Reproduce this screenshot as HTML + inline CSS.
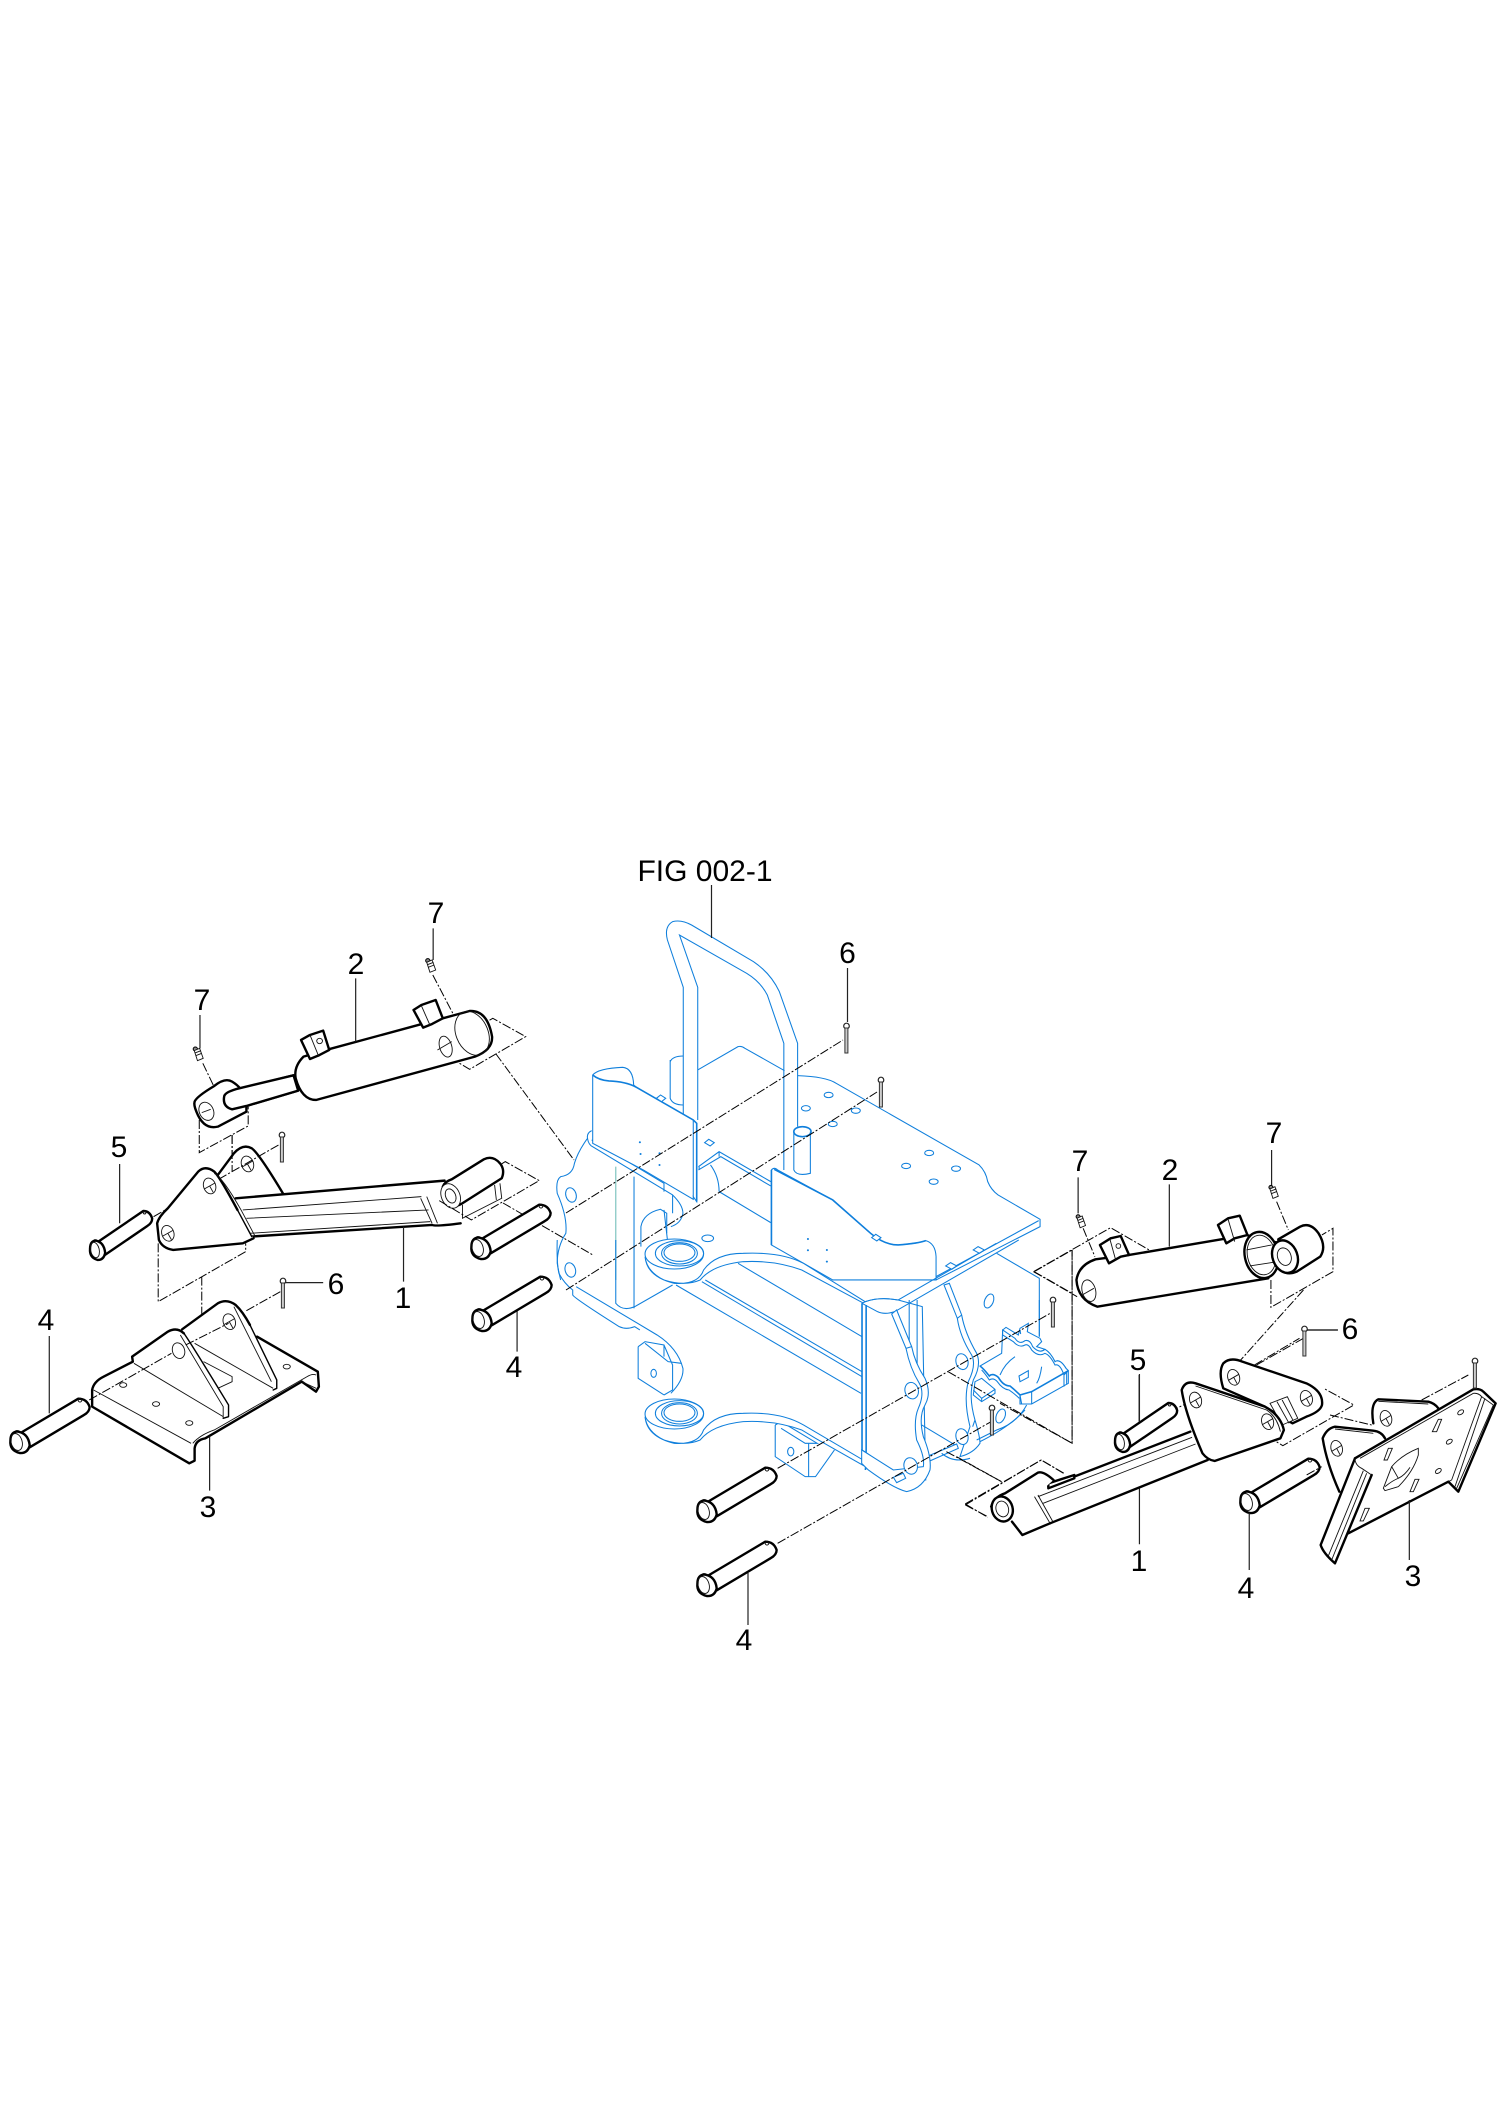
<!DOCTYPE html>
<html><head><meta charset="utf-8"><title>FIG 002-1</title>
<style>
html,body{margin:0;padding:0;background:#fff}
svg{display:block}
svg *{vector-effect:non-scaling-stroke}
.k{fill:#fff;stroke:#000;stroke-width:2.4;stroke-linejoin:round;stroke-linecap:round}
.n{fill:none;stroke:#000;stroke-width:2.4;stroke-linejoin:round;stroke-linecap:round}
.m{fill:none;stroke:#000;stroke-width:1.4;stroke-linejoin:round;stroke-linecap:round}
.w{fill:#fff;stroke:none}
.t{fill:none;stroke:#111;stroke-width:.9}
.f{fill:#fff;stroke:#111;stroke-width:.9}
.d{fill:none;stroke:#000;stroke-width:1;stroke-dasharray:9 2 2 2}
.l{fill:none;stroke:#222;stroke-width:1.2}
.b{fill:none;stroke:#0f7fdc;stroke-width:1.05}
.bw{fill:#fff;stroke:#0f7fdc;stroke-width:1.05}
.bt{fill:none;stroke:#0f7fdc;stroke-width:1.6}
.g{fill:none;stroke:#7fc4c0;stroke-width:1.2}
text{font-family:"Liberation Sans",sans-serif;font-size:30px;fill:#000;text-anchor:middle}
</style></head>
<body>
<svg width="1500" height="2121" viewBox="0 0 1500 2121" xmlns="http://www.w3.org/2000/svg">
<defs>
<g id="pin"><path class="k" d="M12 -30L175 -130Q200 -130 208 -105Q208 -90 190 -80L34 16Z"/><path class="k" d="M-5 -32Q30 -28 34 10Q28 35 5 33Q-25 25 -22 -5Q-22 -30 0 -32Z"/><ellipse class="t" cx="-4" cy="0" rx="16" ry="26" transform="rotate(-15 -4 0)"/><circle class="t" cx="180" cy="-125" r="5"/></g>
<g id="cot"><circle cx="0" cy="2" r="2.8" fill="#fff" stroke="#222" stroke-width="1.2"/><rect x="-1.6" y="4" width="3" height="25" fill="#ccc" stroke="#333" stroke-width="1"/></g>
<g id="fit"><circle cx="0" cy="0" r="6" fill="#888" stroke="#000" stroke-width="1"/><path class="f" d="M-3 5L12 -2L22 28L6 35Z"/><path class="t" d="M-1 12L16 5M1 20L18 13"/></g>
<g id="hole"><ellipse class="f" rx="17" ry="24" transform="rotate(-15)"/><path class="t" d="M-15 9L15 -9M0 0L10 19"/></g>
</defs>

<!-- BLUE FRAME upper (Z3) -->
<g transform="translate(540 880) scale(.3444 .3333)">
<path class="b" d="M458 570L575 500Q585 497 595 505L710 572"/>
<path class="b" d="M748 587Q830 590 860 610L1275 855Q1295 875 1300 905Q1310 930 1330 945L1452 1018L1452 1040L1150 1200"/>
<path class="b" d="M1448 1022L1150 1190"/>
<path class="b" d="M378 540L378 655Q385 675 416 675M378 545Q385 528 416 528"/>
<path class="b" d="M416 720L416 322L370 180Q360 140 385 125Q410 118 440 135L620 245Q670 280 695 335L748 490L748 740"/>
<path class="b" d="M458 720L458 322L405 165L600 280Q640 305 660 345L708 490L708 870"/>
<ellipse class="bt" cx="762" cy="755" rx="25" ry="15"/>
<path class="b" d="M737 755L737 870Q745 890 785 880L785 755"/>
<ellipse class="b" cx="838" cy="645" rx="13" ry="8"/><ellipse class="b" cx="772" cy="685" rx="13" ry="8"/><ellipse class="b" cx="917" cy="692" rx="13" ry="8"/><ellipse class="b" cx="850" cy="732" rx="13" ry="8"/><ellipse class="b" cx="1130" cy="819" rx="13" ry="8"/><ellipse class="b" cx="1063" cy="858" rx="13" ry="8"/><ellipse class="b" cx="1208" cy="866" rx="13" ry="8"/><ellipse class="b" cx="1143" cy="905" rx="13" ry="8"/>
<path class="b" d="M460 860L520 815L670 905M460 870L525 830L670 918M495 855Q520 890 520 935M520 815L520 830"/>
<path class="b" d="M462 870L462 860M520 935L670 1028"/>
<path class="b" d="M150 752Q135 760 138 775Q140 790 148 797L385 945Q415 975 415 1000Q410 1030 380 1040"/>
<path class="b" d="M150 780L360 910L360 935M138 775Q110 815 100 850Q95 885 60 890Q45 900 50 940Q80 1010 75 1060Q50 1100 50 1150Q55 1180 60 1200"/>
<path class="g" d="M220 860L220 1200"/><path class="b" d="M273 890L273 1200M385 945L385 1000M360 990L370 1080"/>
<path class="b" d="M293 1100L293 1040Q300 1000 350 988L368 1000L368 1060"/>
<path class="bw" d="M153 585Q170 565 240 562Q270 565 272 615L280 622L445 720L455 730L455 965L445 950L445 958L300 870L153 790Z"/>
<path class="bt" d="M153 585Q170 600 200 603Q250 605 280 622L445 720L455 730L455 965"/>
<path class="b" d="M445 720L445 950"/>
<path class="bw" d="M672 870Q680 860 690 870L850 960L960 1060Q1000 1095 1040 1095Q1100 1090 1120 1082Q1148 1090 1150 1130L1150 1200L850 1200L672 1095Z"/>
<path class="bt" d="M672 870L672 1095M680 868L850 960L960 1060Q1000 1095 1040 1095Q1100 1090 1120 1082"/>
<path class="bw" d="M338 655L350 645L365 655L353 665Z"/><path class="bw" d="M478 788L490 778L506 788L494 798Z"/><path class="bw" d="M963 1073L975 1063L990 1073L978 1083Z"/><path class="bw" d="M1178 1158L1192 1148L1210 1158L1196 1168Z"/><path class="bw" d="M1258 1110L1272 1100L1290 1110L1276 1120Z"/>
<g fill="#0f7fdc"><circle cx="290" cy="787" r="3"/><circle cx="292" cy="822" r="3"/><circle cx="347" cy="820" r="3"/><circle cx="347" cy="855" r="3"/><circle cx="778" cy="1077" r="3"/><circle cx="778" cy="1111" r="3"/><circle cx="833" cy="1110" r="3"/><circle cx="833" cy="1145" r="3"/></g>
<ellipse class="bw" cx="90" cy="945" rx="15" ry="22" transform="rotate(-15 90 945)"/><ellipse class="bw" cx="88" cy="1170" rx="15" ry="22" transform="rotate(-15 88 1170)"/>
<ellipse class="b" cx="487" cy="1075" rx="17" ry="10"/>
</g>
<!-- BLUE FRAME lower (Z4) -->
<g transform="translate(540 1240) scale(.3444 .3333)">
<path class="b" d="M50 0Q48 70 55 100Q70 130 95 150L95 165Q100 175 230 260Q250 270 275 260L290 270"/>
<path class="b" d="M105 140L340 285Q400 325 415 385Q418 420 380 460"/>
<path class="b" d="M220 0L220 190Q240 215 275 200L385 135"/><path class="b" d="M273 0L273 205"/>
<path class="b" d="M395 135L932 460M470 125L935 410M480 120L935 395M575 70L935 290"/>
<path class="bw" d="M305 50Q310 110 390 130Q460 135 475 90Q510 40 590 40Q700 35 765 70L975 205L975 215L940 190L760 90Q680 60 590 65Q500 75 465 120Q420 140 360 120Q310 95 305 50Z"/>
<ellipse class="bw" cx="390" cy="42" rx="85" ry="45"/><ellipse class="b" cx="405" cy="40" rx="70" ry="38"/><ellipse class="b" cx="405" cy="40" rx="52" ry="32"/><ellipse class="b" cx="405" cy="38" rx="45" ry="26"/>
<path class="b" d="M285 320L285 415L360 465M285 320L305 305L360 315L385 375L385 450L360 465M305 310L372 365L410 370M360 315L360 350"/>
<ellipse class="b" cx="330" cy="400" rx="8" ry="12"/>
<path class="b" d="M683 555L683 650L770 710L800 710L855 630M683 555L700 545L805 610L770 610L700 565M780 610L780 710"/>
<ellipse class="b" cx="728" cy="635" rx="9" ry="13"/>
<path class="bw" d="M305 530Q310 590 390 610Q460 615 475 570Q510 520 590 520Q700 515 765 555L1045 725L1030 730L800 595L760 570Q680 540 590 545Q500 555 465 600Q420 620 360 600Q310 575 305 530Z"/>
<ellipse class="bw" cx="390" cy="522" rx="85" ry="45"/><ellipse class="b" cx="405" cy="520" rx="70" ry="38"/><ellipse class="b" cx="405" cy="520" rx="52" ry="32"/><ellipse class="b" cx="405" cy="518" rx="45" ry="26"/>
<path class="bw" d="M935 190L935 630L950 640L1060 720L1120 720L1110 200L1040 180Q985 170 945 185Z"/>
<path class="bt" d="M935 190L935 630M947 195L947 630L945 690"/><path class="b" d="M1095 180L1095 400M1072 180L1072 320"/>
<path class="b" d="M945 185Q985 170 1040 180L1325 10M935 190L980 215Q1000 225 1030 215L1390 0"/>
</g>

<!-- BLUE right side detail (zoom 860,1240) -->
<g transform="translate(860 1240) scale(.3333 .3333)">
<path class="b" d="M410 40L538 115L538 290"/>
<path class="b" d="M185 555L285 615M200 650L290 612L295 625L205 665M245 640Q280 670 330 655M360 605Q450 560 495 510"/>
<path class="bw" d="M252 135L268 130L305 225Q315 280 350 340Q365 375 340 420Q325 470 345 540Q360 590 360 610Q340 640 300 650L330 560Q310 480 325 425Q350 375 335 345Q300 290 292 235Z"/>
<path class="b" d="M292 235L305 225M338 560L345 540"/>
<ellipse class="bw" cx="306" cy="365" rx="18" ry="24" transform="rotate(-15 306 365)"/><ellipse class="bw" cx="306" cy="590" rx="18" ry="24" transform="rotate(-15 306 590)"/>
<ellipse class="bw" cx="387" cy="183" rx="13" ry="22" transform="rotate(22 387 183)"/><ellipse class="bw" cx="422" cy="528" rx="13" ry="22" transform="rotate(22 422 528)"/>
<path class="bw" d="M95 222L110 210L155 320Q165 370 195 415Q215 460 195 495Q175 530 190 590Q215 650 210 690Q190 745 140 755Q100 745 25 690L5 670L5 630L100 690L190 680Q195 650 170 600Q160 540 175 505Q195 460 178 430Q150 385 138 325Z"/>
<path class="b" d="M138 325L155 320"/>
<ellipse class="bw" cx="155" cy="452" rx="20" ry="25" transform="rotate(-15 155 452)"/><ellipse class="bw" cx="152" cy="678" rx="20" ry="25" transform="rotate(-15 152 678)"/>
<path class="bw" d="M100 712L130 700L137 715L110 728Z"/>
</g>

<!-- TRACK (zoom 940,1300) -->
<g transform="translate(940 1300) scale(.3333 .3333)">
<path class="b" d="M298 0L298 110"/>
<path class="bw" d="M105 245L125 235L165 268L165 280L125 305L100 285Z"/><path class="b" d="M100 270L125 295L165 268M125 295L125 305"/>
<path class="b" d="M260 315Q230 370 170 390L110 420"/>
<path class="bw" d="M188 90L198 82L235 105L240 85L265 70L262 95L300 115L305 125L290 140L315 148Q332 158 345 185Q360 175 378 205L385 212L385 250L275 312L240 312L240 285Q225 270 210 258Q190 258 175 232Q158 218 148 228Q130 205 120 198L185 160Z"/>
<path class="bw" d="M188 90L225 115Q238 135 255 122Q270 118 278 140Q298 162 315 148Q332 158 345 185Q360 175 378 205L385 212L372 225Q360 190 345 195Q330 165 315 160Q295 172 275 150Q265 130 255 135Q238 145 220 125L188 105Z"/>
<path class="bt" d="M120 198Q130 205 148 228Q158 218 175 232Q190 258 210 258Q225 270 240 285L275 275L385 212"/>
<path class="b" d="M125 210Q135 220 148 240Q160 232 172 245Q188 268 207 270Q222 280 238 295M240 285L245 312M275 275L275 312M180 225Q195 190 225 170M305 200Q300 235 290 250M372 225L372 260M380 215L380 252"/>
<path class="bw" d="M237 228L265 212L265 232L240 245Z"/><path class="b" d="M240 90L242 102"/>
</g>

<!-- DASH-DOT lines -->
<g class="d">
<path d="M496 1054L574 1160"/><path d="M503 1203L593 1255"/>
<path d="M566 1213L843 1040"/>
<path d="M566 1290L877 1092"/>
<g transform="translate(540 1240) scale(.3444 .3333)">
<path d="M690 685L1490 215M690 910L1310 545M1185 395L1545 610L1545 30M1180 635L1340 725M1235 795L1455 660L1520 700M1235 795L1300 830M1435 95L1545 30M1435 95L1545 160"/>
</g>
</g>

<!-- LEFT CYLINDER (Z1) -->
<g transform="translate(0 840) scale(.3571 .3333)">
<path class="d" d="M1225 630L1380 535L1472 590L1315 688Z"/>
<path class="d" d="M558 840L558 938L695 858L695 800M650 885L650 995M568 670L597 735M1212 405L1268 520"/>
<path class="k" d="M670 748L822 706L835 752L690 798Z"/>
<path class="k" d="M545 785Q550 770 600 738Q630 712 650 725Q665 735 672 745L690 798L690 815L610 860Q570 870 550 815Q542 795 545 785Z"/>
<path class="k" d="M690 798L650 808Q622 800 628 768Q632 755 670 745L822 706L835 752Z"/>
<ellipse class="t" cx="578" cy="814" rx="20" ry="28" transform="rotate(-20 578 814)"/><path class="t" d="M565 818L590 808"/>
<path class="k" d="M850 650Q822 680 828 715Q845 780 885 780L1330 650Q1380 630 1378 590Q1365 510 1315 513L1240 535L920 628Z"/>
<ellipse class="t" cx="1322" cy="580" rx="45" ry="68" transform="rotate(-20 1322 580)"/>
<ellipse class="t" cx="1248" cy="620" rx="17" ry="32" transform="rotate(-15 1248 620)"/><path class="t" d="M1225 630L1265 605"/>
<path class="k" d="M843 600L868 585L905 572L922 630L895 645L868 657Z"/><path class="t" d="M868 585L893 650"/><circle class="t" cx="895" cy="603" r="8"/>
<path class="k" d="M1158 510L1180 495L1220 480L1240 535L1210 552L1185 563Z"/><path class="t" d="M1180 497L1205 558"/>
<use href="#fit" transform="translate(547 627)"/>
<use href="#fit" transform="translate(1198 362)"/>
<!-- left arm -->
<path class="w" d="M610 1005L655 940Q680 910 705 925Q725 940 795 1065L610 1080Z"/>
<path class="n" d="M610 1005L655 940Q680 910 705 925Q725 940 795 1065"/>
<use href="#hole" transform="translate(693 972)"/>
<path class="d" d="M430 1130L780 915M650 885L650 995"/>
<path class="w" d="M660 1075L1245 1022L1300 1145L1210 1155L700 1190Z"/>
<path class="n" d="M660 1075L1245 1022M700 1190L1210 1155Q1220 1160 1290 1150"/>
<path class="t" d="M680 1110L1180 1070M690 1135L1200 1110M700 1180L1205 1145M1178 1075L1210 1150M1195 1070L1225 1150"/>
<path class="t" d="M1295 1095L1295 1135L1405 1075L1400 1030M1385 1035L1390 1080"/>
<path class="k" d="M1240 1040Q1245 1025 1265 1018L1355 958Q1380 945 1400 970Q1415 990 1405 1015L1295 1090Q1270 1105 1255 1095Z"/>
<ellipse class="f" cx="1262" cy="1068" rx="26" ry="38" transform="rotate(-20 1262 1068)"/><ellipse class="t" cx="1262" cy="1068" rx="14" ry="22" transform="rotate(-20 1262 1068)"/>
<path class="d" d="M1230 1082L1320 1140L1510 1022L1415 965L1400 975"/>
<path class="w" d="M445 1200L440 1150Q445 1130 470 1105L555 995Q575 975 600 995Q615 1010 665 1110L710 1195L680 1210L485 1230Q455 1225 445 1200Z"/>
<path class="n" d="M445 1200L440 1150Q445 1130 470 1105L555 995Q575 975 600 995Q615 1010 665 1110M710 1195L680 1210L485 1230Q455 1225 445 1200"/>
<path class="m" d="M665 1110L705 1190"/>
<path class="t" d="M600 1000Q625 1015 675 1110L715 1190"/>
<use href="#hole" transform="translate(587 1038)"/>
<use href="#hole" transform="translate(470 1180)"/>
<path class="l" d="M560 525L560 625M1213 265L1213 360M996 415L996 605M335 972L335 1150M1130 1160L1130 1325"/>
</g>

<!-- LEFT BASE PLATE (Z2) -->
<g transform="translate(0 1240) scale(.3571 .3333)">
<path class="d" d="M443 10L443 185L688 35L688 10M565 110L565 290M690 212L785 155"/>
<path class="w" d="M720 290L890 395L893 440L885 455L845 425L575 595Q548 600 545 625L545 662L530 670L258 500L258 450Q262 425 290 410L372 365Z"/>
<path class="n" d="M720 290L890 395L893 440L885 455L845 425M845 425L575 595Q548 600 545 625L545 662L530 670L258 500L258 450Q262 425 290 410L372 365"/>
<path class="t" d="M262 450L535 610M540 610Q560 585 600 570L860 410Q875 400 885 405M845 425L885 445"/>
<path class="w" d="M510 268L610 190Q635 175 660 195Q680 215 775 420L775 445L765 450L530 320Z"/>
<path class="n" d="M510 268L610 190Q635 175 660 195Q680 215 700 255"/>
<path class="m" d="M700 255L775 420L775 445L765 450"/>
<path class="t" d="M545 310L765 445M655 200L760 425M570 365L650 410L650 425L610 445"/>
<path class="w" d="M372 365L370 350L470 275Q495 260 515 280Q535 310 640 495L640 530L625 535L375 370Z"/>
<path class="n" d="M372 365L370 350L470 275Q495 260 515 280"/>
<path class="m" d="M515 280Q535 310 640 495L640 530L625 535"/>
<path class="t" d="M375 370L625 530M505 285L625 500L625 535"/>
<ellipse class="f" cx="500" cy="332" rx="17" ry="24" transform="rotate(-15 500 332)"/>
<use href="#hole" transform="translate(642 245)"/>
<path class="d" d="M250 480L480 340M520 315L640 250"/>
<ellipse class="t" cx="345" cy="435" rx="10" ry="7"/><ellipse class="t" cx="437" cy="492" rx="10" ry="7"/><ellipse class="t" cx="530" cy="549" rx="10" ry="7"/><ellipse class="t" cx="803" cy="380" rx="10" ry="7"/>
<path class="l" d="M138 288L138 520M587 590L587 752M797 128L905 128M1448 210L1448 335"/>
</g>

<!-- PINS -->
<g>
<use href="#pin" transform="translate(705 1585) scale(.3444 .3333)"/>
<use href="#pin" transform="translate(705 1511) scale(.3444 .3333)"/>
<use href="#pin" transform="translate(18 1442) scale(.3444 .3333)"/>
<use href="#pin" transform="translate(480 1320) scale(.3444 .3333)"/>
<use href="#pin" transform="translate(96 1250) scale(.27 .3)"/>
<use href="#pin" transform="translate(479 1248) scale(.3444 .3333)"/>
<use href="#pin" transform="translate(1248 1502) scale(.3444 .3333)"/>
</g>

<!-- RIGHT CYLINDER (Z5) -->
<g transform="translate(1000 1100) scale(.3353 .3333)">
<path class="d" d="M100 515L330 383L445 450M100 515L230 590M215 450L215 1030L0 910M808 540L808 622L993 515L993 385L960 405M905 570L700 800M765 795L905 715M248 385L283 470M825 305L860 390"/>
<path class="k" d="M285 478Q235 495 228 540Q232 600 290 620L800 535L835 430L735 405L660 418L385 465Z"/>
<ellipse class="k" cx="780" cy="465" rx="50" ry="70" transform="rotate(-12 780 465)"/>
<ellipse class="t" cx="780" cy="465" rx="42" ry="60" transform="rotate(-12 780 465)"/>
<path class="t" d="M735 450L810 435M745 498L815 487"/>
<ellipse class="t" cx="265" cy="572" rx="20" ry="33" transform="rotate(-15 265 572)"/><path class="t" d="M245 585L280 565"/>
<path class="k" d="M298 435L330 415L360 408L385 465L360 470L325 490Z"/><path class="t" d="M328 418L345 480"/><circle class="t" cx="353" cy="438" r="7"/>
<path class="k" d="M650 375L680 355L715 347L738 405L700 415L675 430Z"/><path class="t" d="M680 357L700 425"/>
<path class="k" d="M830 418L895 380Q925 365 950 400Q975 440 955 470L885 515Q860 525 845 515Z"/>
<ellipse class="k" cx="850" cy="470" rx="37" ry="50" transform="rotate(-20 850 470)"/>
<ellipse class="t" cx="848" cy="470" rx="20" ry="27" transform="rotate(-20 848 470)"/>
<use href="#fit" transform="translate(233 350) scale(1 .95)"/>
<use href="#fit" transform="translate(808 262) scale(1 .95)"/>
<path class="l" d="M233 232L233 340M810 150L810 255M505 253L505 440M915 690L1008 690M415 825L415 965"/>
</g>

<!-- RIGHT ARM (Z6) -->
<g transform="translate(960 1300) scale(.3464 .3333)">
<path class="d" d="M850 385L932 437L1137 315L1050 265M15 612L235 480L300 520M15 612L80 652M120 545L-10 470M605 335L655 310M850 195L980 115"/>
<path class="k" d="M760 265Q745 215 760 190Q780 170 815 185L1000 250Q1050 275 1045 315Q1040 335 1000 350L960 370L880 320Z"/>
<use href="#hole" transform="translate(790 232)"/>
<use href="#hole" transform="translate(1000 295)"/>
<path class="f" d="M895 310L945 290L975 355L930 375Z"/><path class="t" d="M915 305L950 370M930 300L962 362"/>
</g>
<use href="#pin" transform="translate(1121 1442) scale(.27 .3)"/>
<g transform="translate(960 1300) scale(.3464 .3333)">
<path class="w" d="M665 395L255 560L260 670L715 480Z"/>
<path class="n" d="M665 395L255 560M715 480L260 670"/>
<path class="t" d="M670 412L225 590M680 432L240 610"/>
<path class="k" d="M255 550L330 525L330 535L255 565Z"/>
<path class="w" d="M90 620Q100 590 130 580L225 518Q240 512 270 540L215 590L260 670L180 705L150 665L110 660Z"/>
<path class="n" d="M90 620Q100 590 130 580L225 518Q240 512 270 540M150 665L180 705L260 670"/>
<path class="t" d="M215 590L260 670M225 585L268 665"/>
<ellipse class="k" cx="122" cy="627" rx="30" ry="38" transform="rotate(-15 122 627)"/><ellipse class="t" cx="122" cy="627" rx="18" ry="24" transform="rotate(-15 122 627)"/>
<path class="k" d="M640 270Q650 240 680 250L880 320Q925 345 935 390L925 415L735 483Q715 480 700 460Q650 340 640 270Z"/>
<path class="t" d="M680 258L885 330Q915 350 925 395"/>
<use href="#hole" transform="translate(680 300)"/>
<use href="#hole" transform="translate(888 365)"/>
<path class="l" d="M835 640L835 810M518 565L518 733M518 222L518 365M995 90L1090 90"/>
</g>

<!-- RIGHT BRACKET (zoom 1310,1380) -->
<g transform="translate(1310 1380) scale(.3333 .3333)">
<path class="d" d="M60 105L185 135M335 60L475 -15M-10 285L35 260"/>
<path class="w" d="M190 115Q180 70 205 58L355 65Q375 70 385 85L230 180Z"/>
<path class="n" d="M190 130Q180 70 205 58L355 65Q375 70 385 85"/><path class="t" d="M205 64L355 72"/>
<use href="#hole" transform="translate(228 115)"/>
<path class="w" d="M88 335Q50 250 38 175Q50 145 75 140L190 152Q215 155 225 175L135 235Z"/>
<path class="n" d="M88 335Q50 250 38 175Q50 145 75 140L190 152Q215 155 225 175"/><path class="t" d="M75 147L190 160"/>
<use href="#hole" transform="translate(80 205)"/>
<path class="w" d="M135 235L490 28Q510 25 520 35L557 70L445 335L415 305L115 460L185 285Z"/>
<path class="n" d="M135 235L490 28Q510 25 520 35L557 70L445 335L415 305L115 460"/>
<path class="t" d="M150 235L490 40Q505 38 515 50L425 300L415 305M515 50L550 75L440 325M525 55L435 320"/>
<path class="w" d="M135 235Q135 255 155 265L185 285L75 550L32 495Z"/>
<path class="n" d="M135 235L32 495Q40 520 75 550L185 285"/>
<path class="t" d="M135 235Q135 255 155 265L185 285M170 280L65 540M160 272L55 528"/>
<path class="f" d="M220 325L245 260Q275 225 325 205L325 225Q310 275 265 320L225 332Z"/>
<path class="t" d="M245 260L265 295M225 320Q250 300 265 295Q285 285 300 262"/>
<path class="f" d="M222 240L235 205L247 205L232 240Z"/><path class="f" d="M367 155L385 118L395 118L380 155Z"/><path class="f" d="M300 335L315 298L327 298L310 335Z"/><path class="f" d="M150 423L165 385L178 385L160 423Z"/>
<ellipse class="t" cx="452" cy="97" rx="10" ry="6" transform="rotate(-35 452 97)"/><ellipse class="t" cx="418" cy="185" rx="10" ry="6" transform="rotate(-35 418 185)"/><ellipse class="t" cx="385" cy="273" rx="10" ry="6" transform="rotate(-35 385 273)"/>
<path class="l" d="M298 360L298 540"/>
</g>

<!-- COTTER PINS -->
<use href="#cot" x="282" y="1133"/><use href="#cot" x="283" y="1279"/><use href="#cot" x="846.500" y="1024"/><use href="#cot" x="881" y="1078"/><use href="#cot" x="1053" y="1298"/><use href="#cot" x="992" y="1406"/><use href="#cot" x="1304.500" y="1327"/><use href="#cot" x="1475" y="1359"/>

<!-- LEADERS in blue area -->
<path class="l" d="M711.500 885L711.500 938M847.500 968L847.500 1022M748 1573L748 1625"/>

<!-- LABELS -->
<text x="705" y="881">FIG 002-1</text>
<text x="202" y="1010">7</text><text x="436" y="923">7</text><text x="356" y="974">2</text><text x="119" y="1157">5</text>
<text x="336" y="1294">6</text><text x="403" y="1308">1</text><text x="46" y="1330">4</text><text x="514" y="1377">4</text><text x="208" y="1517">3</text>
<text x="847.500" y="963">6</text><text x="744" y="1650">4</text>
<text x="1080" y="1171">7</text><text x="1274" y="1143">7</text><text x="1170" y="1180">2</text><text x="1350" y="1339">6</text><text x="1138" y="1370">5</text>
<text x="1139" y="1571">1</text><text x="1246" y="1598">4</text><text x="1413" y="1586">3</text>
</svg>
</body></html>
